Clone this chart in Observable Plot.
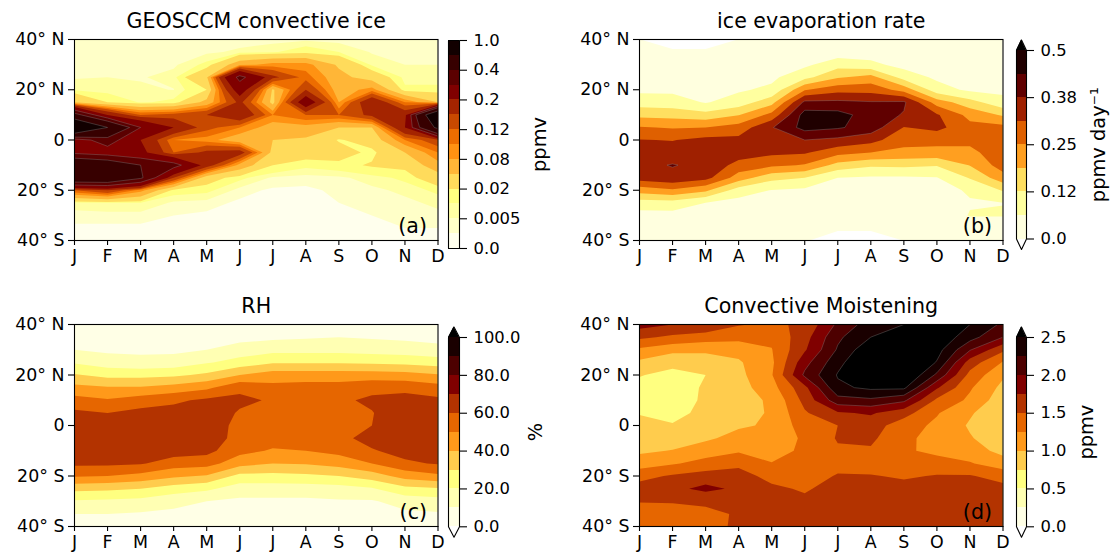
<!DOCTYPE html>
<html><head><meta charset="utf-8">
<script src="https://cdn.jsdelivr.net/npm/d3@7"></script>
<script src="https://cdn.jsdelivr.net/npm/@observablehq/plot@0.6"></script>
<style>
html,body{margin:0;padding:0;background:#fff;width:1112px;height:558px;overflow:hidden}
#chart{position:relative;width:1112px;height:558px}
#chart svg{position:absolute;background:transparent;max-width:none;overflow:visible}
</style></head><body><div id="chart"></div>
<script>
const months = ["J","F","M","A","M","J","J","A","S","O","N","D"];
const latitudes = [40,35,30,25,20,15,10,5,0,-5,-10,-15,-20,-25,-30,-35,-40];
const latTicks = [40,20,0,-20,-40];

const colors14 = ["#ffffed","#ffffc8","#ffffa4","#ffff80","#ffdb5b","#ffb637","#ff9212","#ed6d00","#c84900","#a42400","#800000","#5b0000","#370000","#120000"];
const colors8 = ["#ffffdf","#ffff9f","#ffdf60","#ff9f20","#df6000","#9f2000","#600000","#200000"];
const colors10 = ["#ffffe6","#ffffb3","#ffff80","#ffcc4d","#ff991a","#e66600","#b33300","#800000","#4d0000","#1a0000"];

const iceLevels = [0,.002,.005,.01,.02,.05,.08,.1,.12,.15,.2,.3,.4,.6,1.0];
const iceEdges = [.3,.4,.6];
const iceTickLabels = ["0.0","0.005","0.02","0.08","0.12","0.2","0.4","1.0"];
const evapLevels = [0,.0625,.125,.1875,.25,.3125,.375,.4375,.5];
const evapEdges = [.375,.4375];
const evapTickLabels = ["0.0","0.12","0.25","0.38","0.5"];
const rhLevels = [0,10,20,30,40,50,60,70,80,90,100];
const rhEdges = [];
const rhTickLabels = ["0.0","20.0","40.0","60.0","80.0","100.0"];
const moistLevels = [0,.25,.5,.75,1,1.25,1.5,1.75,2,2.25,2.5];
const moistEdges = [2,2.25,2.5];
const moistTickLabels = ["0.0","0.5","1.0","1.5","2.0","2.5"];

// each inner list: one month, latitudes 40N to 40S
const iceByMonth = [
[.003,.003,.003,.0045,.008,.05,.45,.9,.25,.28,.55,.55,.12,.008,.003,.0015,.001],
[.003,.003,.0035,.005,.006,.02,.2,.6,.35,.25,.5,.55,.15,.01,.003,.0015,.001],
[.003,.003,.0035,.0045,.006,.009,.12,.3,.2,.22,.4,.42,.09,.01,.003,.0015,.001],
[.003,.0035,.004,.007,.0048,.012,.13,.2,.1,.12,.34,.15,.014,.004,.002,.001,.001],
[.003,.004,.012,.045,.02,.06,.15,.13,.09,.16,.17,.03,.012,.003,.0015,.001,.001],
[.003,.006,.07,.33,.24,.16,.19,.1,.06,.17,.07,.012,.003,.0015,.001,.001,.001],
[.003,.009,.09,.16,.045,.04,.1,.065,.05,.04,.02,.004,.0015,.001,.001,.001,.001],
[.004,.015,.09,.11,.15,.25,.12,.07,.045,.03,.012,.003,.0015,.001,.001,.001,.001],
[.003,.01,.045,.06,.065,.08,.12,.05,.018,.03,.015,.004,.0025,.002,.0015,.001,.001],
[.003,.0045,.008,.035,.09,.19,.16,.05,.03,.015,.022,.007,.004,.003,.002,.0012,.001],
[.003,.004,.005,.007,.012,.1,.18,.2,.1,.05,.025,.012,.006,.004,.003,.002,.001],
[.003,.004,.005,.007,.012,.05,.85,.65,.14,.1,.07,.035,.012,.006,.004,.002,.001]
];
const evapByMonth = [
[.002,.02,.035,.045,.05,.095,.17,.255,.315,.345,.36,.345,.215,.095,.04,.03,.02],
[-.06,.02,.035,.045,.05,.09,.165,.245,.31,.345,.378,.36,.24,.1,.04,.03,.02],
[-.06,.02,.035,.04,.045,.058,.148,.25,.33,.35,.36,.335,.2,.0625,.03,.02,.015],
[.002,.02,.035,.045,.055,.09,.185,.276,.33,.345,.29,.22,.095,.04,.03,.02,.015],
[.015,.025,.035,.05,.075,.165,.27,.37,.35,.325,.264,.145,.06,.04,.025,.02,.015],
[.02,.025,.05,.105,.245,.39,.465,.46,.375,.32,.245,.125,.05,.035,.025,.02,.005],
[.02,.03,.1,.18,.29,.39,.46,.445,.36,.27,.165,.0625,.04,.03,.02,.01,-.03],
[.02,.03,.08,.21,.29,.38,.41,.41,.335,.25,.135,.055,.035,.03,.02,.01,-.03],
[.015,.025,.04,.1,.225,.385,.37,.31,.27,.235,.14,.055,.035,.03,.025,.02,.001],
[.015,.02,.035,.05,.09,.22,.32,.33,.27,.23,.13,.06,.04,.03,.02,.015,.015],
[.015,.02,.03,.04,.05,.15,.23,.27,.265,.235,.19,.13,.07,.058,.066,.03,.015],
[.01,.02,.03,.04,.05,.08,.18,.27,.28,.285,.28,.225,.13,.0615,.066,.03,.015]
];
const rhByMonth = [
[4,6,10,19,31,43,54,62,66,67,66,62,51,33,19,10,7],
[3,5,8,15,27,41,51,60,65,67,65,62,50,32,18,10,7],
[3,5,8,13,27,41,55,63,66,67,65,61,47,30,17,9,6],
[3,5,8,14,28,44,58,64,67,68,65,55,42,25,13,8,5],
[3,6,10,19,32,48,62,66,68,68,63,54,39,22,10,7,5],
[4,7,14,24,40,58,62,59,56,55,53,44,27,15,8,6,4],
[5,8,17,29,45,53,59,58,57,54,49,40,27,15,8,6,4],
[5,9,17,29,45,54,57,58,57,54,50,41,28,15,8,6,4],
[5,10,17,29,45,54,58,59,58,57,53,44,30,16,9,6,4],
[5,9,16,28,45,57,62,59.5,60,64,59,50,35,19,9,6,4],
[4,8,15,27,44,57,64,67,68,67,64,58,44,27,14,8,5],
[4,7,13,25,41,54,62,66,67,67,65,61,48,29,16,9,6]
];
const moistByMonth = [
[1.85,1.55,1.2,.95,.76,.7,.68,.74,.8,.88,.96,1.12,1.42,1.6,1.51,1.4,1.35],
[1.75,1.45,1.08,.8,.7,.63,.6,.67,.77,.88,1.01,1.22,1.53,1.68,1.52,1.4,1.35],
[1.7,1.38,1.05,.87,.75,.78,.8,.82,.88,.96,1.12,1.35,1.6,1.82,1.54,1.45,1.4],
[1.52,1.33,1.08,.97,.93,.9,.92,.93,.97,1.08,1.22,1.44,1.6,1.7,1.58,1.52,1.55],
[1.45,1.3,1.24,1.2,1.23,1.15,1.03,1.02,1.03,1.06,1.15,1.26,1.42,1.55,1.6,1.6,1.6],
[1.55,1.65,1.72,1.91,2.05,1.68,1.58,1.47,1.38,1.3,1.3,1.3,1.33,1.47,1.55,1.58,1.6],
[2.05,2.2,2.28,2.42,2.52,2.45,2.15,1.72,1.5,1.52,1.47,1.38,1.53,1.6,1.62,1.65,1.65],
[2.38,2.5,2.7,2.8,2.8,2.55,2.2,1.78,1.62,1.55,1.47,1.35,1.52,1.62,1.65,1.65,1.65],
[2.5,2.9,2.9,2.9,2.8,2.55,2.05,1.6,1.36,1.3,1.28,1.3,1.46,1.6,1.65,1.65,1.65],
[2.6,2.7,2.6,2.48,2.2,1.78,1.45,1.27,1.2,1.17,1.2,1.33,1.52,1.6,1.65,1.65,1.65],
[2.5,2.35,2.02,1.63,1.42,1.28,1.2,1.03,.97,1.02,1.12,1.27,1.52,1.6,1.65,1.65,1.65],
[2.2,2.0,1.55,1.23,1.04,.93,.85,.8,.8,.85,.92,1.12,1.4,1.58,1.65,1.65,1.65]
];

const font = "'DejaVu Sans', sans-serif";
const TICK = 17.4, BARTICK = 16.4, TITLE = 20.6, LABEL = 19.4;
const root = document.getElementById("chart");
const latLabel = d => d === 0 ? "0" : `${Math.abs(d)}° ${d > 0 ? "N" : "S"}`;

function addPanel({byMonth, levels, edges, colors, frame, title, tag}) {
  const [fx0, fx1, fy0, fy1] = frame;
  const mL = 70, mR = 20, mT = 36, mB = 32;
  const values = latitudes.flatMap((_, r) => byMonth.map(col => col[r]));
  const grid = {width: 12, height: 17, x1: -0.5, x2: 11.5, y1: 42.5, y2: -42.5, clip: true};
  const svg = Plot.plot({
    width: mL + (fx1 - fx0) + mR, height: mT + (fy1 - fy0) + mB,
    marginLeft: mL, marginRight: mR, marginTop: mT, marginBottom: mB,
    style: {fontFamily: font, color: "#000"},
    x: {domain: [0, 11]},
    y: {domain: [-40, 40]},
    color: {type: "threshold", domain: levels.slice(1), range: [...colors, "#000"]},
    marks: [
      Plot.contour(values, {...grid, fill: Plot.identity, thresholds: levels}),
      edges.length ? Plot.contour(values, {...grid, value: Plot.identity, thresholds: edges, fill: "none", stroke: "#8a8a8a", strokeWidth: 0.35}) : null,
      Plot.frame({stroke: "#000", strokeWidth: 1.1}),
      Plot.axisX(d3.range(12), {tickFormat: i => months[i], label: null, tickSize: 5, tickPadding: 4, fontSize: TICK, strokeWidth: 1.1}),
      Plot.axisY(latTicks, {tickFormat: latLabel, label: null, tickSize: 6, tickPadding: 4, fontSize: TICK, strokeWidth: 1.1}),
      Plot.text([title], {frameAnchor: "top", dy: -12, fontSize: TITLE, lineAnchor: "bottom", fill: "#000"}),
      Plot.text([tag], {frameAnchor: "bottom-right", dx: -11, dy: -8, fontSize: TITLE, fill: "#000"})
    ]
  });
  svg.style.left = (fx0 - mL) + "px";
  svg.style.top = (fy0 - mT) + "px";
  root.appendChild(svg);
}

function addBar({colors, tickLabels, box, tip, label, labelDx}) {
  const [x0, x1, y0, y1] = box;
  const n = colors.length, mL = 10, mR = 110, mT = 20, mB = 20;
  const ticks = tickLabels.map((_, i) => i * n / (tickLabels.length - 1));
  const h = tip / ((y1 - y0) / n);
  const outline = tip
    ? [[0,0],[.5,-h],[1,0],[1,n],[.5,n+h],[0,n],[0,0]]
    : [[0,0],[1,0],[1,n],[0,n],[0,0]];
  const marks = [
    Plot.rect(d3.range(n), {x1: 0, x2: 1, y1: d => d, y2: d => d + 1, fill: d => colors[d], shapeRendering: "crispEdges"})
  ];
  if (tip) marks.push(Plot.areaY([[0,n],[.5,n+h],[1,n]], {x: d => d[0], y1: n, y2: d => d[1], fill: "#000"}));
  marks.push(
    Plot.line(outline, {x: d => d[0], y: d => d[1], stroke: "#000", strokeWidth: 1.1}),
    Plot.axisY(ticks, {anchor: "right", tickFormat: (d, i) => tickLabels[i], label: null, tickSize: 7, tickPadding: 7, fontSize: BARTICK, strokeWidth: 1.1}),
    Plot.text([label], {frameAnchor: "right", textAnchor: "middle", dx: labelDx, rotate: -90, fontSize: LABEL, fill: "#000"})
  );
  const svg = Plot.plot({
    width: mL + (x1 - x0) + mR, height: mT + (y1 - y0) + mB,
    marginLeft: mL, marginRight: mR, marginTop: mT, marginBottom: mB,
    style: {fontFamily: font, color: "#000"},
    x: {domain: [0, 1], axis: null},
    y: {domain: [0, n], axis: null},
    marks
  });
  svg.style.left = (x0 - mL) + "px";
  svg.style.top = (y0 - mT) + "px";
  root.appendChild(svg);
}

addPanel({byMonth: iceByMonth, levels: iceLevels, edges: iceEdges, colors: colors14, frame: [74, 437.5, 38.5, 239.5], title: "GEOSCCM convective ice", tag: "(a)"});
addPanel({byMonth: evapByMonth, levels: evapLevels, edges: evapEdges, colors: colors8, frame: [639, 1002.5, 38.5, 239.5], title: "ice evaporation rate", tag: "(b)"});
addPanel({byMonth: rhByMonth, levels: rhLevels, edges: rhEdges, colors: colors10, frame: [74, 437.5, 324, 526], title: "RH", tag: "(c)"});
addPanel({byMonth: moistByMonth, levels: moistLevels, edges: moistEdges, colors: colors10, frame: [639, 1002.5, 324, 526], title: "Convective Moistening", tag: "(d)"});

addBar({colors: colors14, tickLabels: iceTickLabels, box: [448, 459, 40, 248], tip: 0, label: "ppmv", labelDx: 80});
addBar({colors: colors8, tickLabels: evapTickLabels, box: [1016, 1026, 50, 238.5], tip: 10.5, label: "ppmv day⁻¹", labelDx: 72});
addBar({colors: colors10, tickLabels: rhTickLabels, box: [448, 459, 336.7, 526], tip: 10.5, label: "%", labelDx: 76});
addBar({colors: colors10, tickLabels: moistTickLabels, box: [1016, 1026, 336.7, 526], tip: 10.5, label: "ppmv", labelDx: 60});
</script></body></html>
